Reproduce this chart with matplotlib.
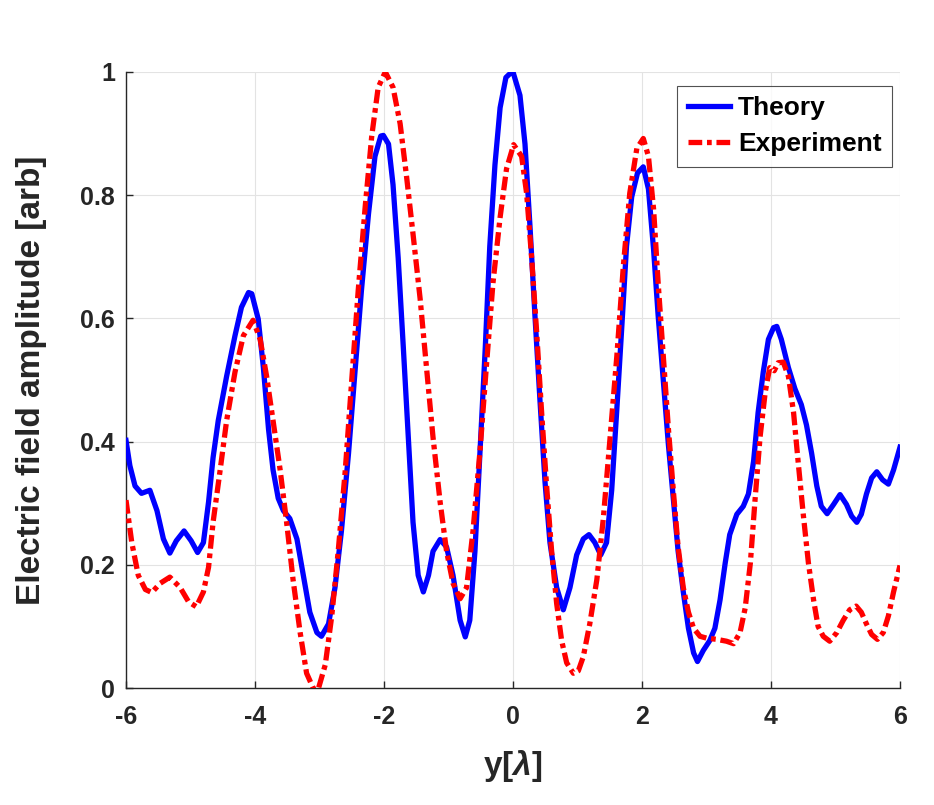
import matplotlib
matplotlib.use("Agg")
import matplotlib.pyplot as plt

# Theory (blue, solid)
theory_x = [-6.0, -5.94, -5.86, -5.76, -5.63, -5.52, -5.42, -5.32, -5.22, -5.10, -4.99, -4.89,
            -4.80, -4.72, -4.65, -4.57, -4.44, -4.31, -4.21, -4.10, -4.05, -3.95, -3.87,
            -3.79, -3.72, -3.64, -3.56, -3.46, -3.35, -3.25, -3.15, -3.04, -2.97, -2.86,
            -2.76, -2.66, -2.55, -2.45, -2.35, -2.24, -2.14, -2.05, -2.01, -1.93, -1.86,
            -1.78, -1.70, -1.62, -1.55, -1.47, -1.39, -1.31, -1.24, -1.13, -1.03, -0.93,
            -0.82, -0.74, -0.67, -0.59, -0.51, -0.43, -0.36, -0.28, -0.20, -0.11, -0.03,
            0.0, 0.108, 0.186, 0.263, 0.34, 0.418, 0.496, 0.573, 0.677, 0.78, 0.883, 0.987,
            1.09, 1.178, 1.27, 1.36, 1.45, 1.53, 1.61, 1.69, 1.76, 1.84, 1.93, 2.02, 2.10,
            2.18, 2.25, 2.33, 2.41, 2.49, 2.56, 2.64, 2.72, 2.80, 2.86, 2.95, 3.05, 3.13,
            3.21, 3.29, 3.36, 3.47, 3.57, 3.65, 3.73, 3.80, 3.88, 3.96, 4.04, 4.09, 4.16,
            4.27, 4.37, 4.47, 4.55, 4.63, 4.71, 4.78, 4.87, 4.97, 5.07, 5.17, 5.25, 5.33,
            5.40, 5.48, 5.56, 5.64, 5.73, 5.82, 5.90, 6.0]
theory_y = [0.402, 0.361, 0.328, 0.316, 0.321, 0.288, 0.242, 0.219, 0.239, 0.255, 0.239, 0.220,
            0.236, 0.302, 0.374, 0.434, 0.506, 0.572, 0.618, 0.642, 0.640, 0.599, 0.520,
            0.420, 0.354, 0.308, 0.288, 0.275, 0.242, 0.183, 0.123, 0.090, 0.084, 0.104,
            0.163, 0.255, 0.381, 0.513, 0.645, 0.770, 0.863, 0.896, 0.897, 0.883, 0.817,
            0.698, 0.552, 0.400, 0.269, 0.183, 0.156, 0.183, 0.222, 0.241, 0.229, 0.183,
            0.110, 0.083, 0.110, 0.222, 0.387, 0.552, 0.717, 0.849, 0.942, 0.991, 0.999,
            1.0, 0.962, 0.883, 0.750, 0.605, 0.467, 0.335, 0.236, 0.163, 0.127, 0.163, 0.216,
            0.242, 0.249, 0.236, 0.216, 0.236, 0.321, 0.453, 0.592, 0.717, 0.797, 0.836,
            0.846, 0.810, 0.711, 0.605, 0.500, 0.394, 0.302, 0.222, 0.156, 0.097, 0.057,
            0.043, 0.061, 0.077, 0.097, 0.143, 0.203, 0.249, 0.282, 0.295, 0.315, 0.368,
            0.447, 0.513, 0.566, 0.585, 0.587, 0.566, 0.520, 0.486, 0.460, 0.427, 0.381,
            0.328, 0.295, 0.283, 0.298, 0.314, 0.298, 0.279, 0.269, 0.282, 0.315, 0.341,
            0.351, 0.338, 0.331, 0.354, 0.391]

# Experiment (red, dash-dot)
exp_x = [-6.0, -5.91, -5.81, -5.70, -5.60, -5.47, -5.32, -5.16, -5.03, -4.91, -4.80, -4.72,
         -4.65, -4.54, -4.44, -4.31, -4.18, -4.03, -3.92, -3.82, -3.72, -3.61, -3.51,
         -3.41, -3.30, -3.20, -3.09, -3.02, -2.91, -2.81, -2.71, -2.60, -2.50, -2.40,
         -2.29, -2.19, -2.09, -1.98, -1.86, -1.75, -1.65, -1.55, -1.44, -1.34, -1.24,
         -1.13, -1.03, -0.93, -0.82, -0.72, -0.62, -0.51, -0.41, -0.31, -0.20, -0.10,
         0.01, 0.134, 0.211, 0.289, 0.366, 0.444, 0.521, 0.599, 0.677, 0.754, 0.832,
         0.935, 1.013, 1.09, 1.19, 1.30, 1.40, 1.50, 1.61, 1.71, 1.81, 1.92, 2.02, 2.10,
         2.18, 2.25, 2.33, 2.41, 2.49, 2.56, 2.64, 2.72, 2.80, 2.90, 3.00, 3.16, 3.31,
         3.42, 3.52, 3.60, 3.68, 3.75, 3.83, 3.91, 3.98, 4.05, 4.11, 4.19, 4.27, 4.35,
         4.42, 4.50, 4.58, 4.66, 4.73, 4.81, 4.91, 5.02, 5.12, 5.22, 5.32, 5.40, 5.48,
         5.56, 5.65, 5.74, 5.82, 5.90, 6.0]
exp_y = [0.305, 0.236, 0.183, 0.160, 0.155, 0.170, 0.180, 0.163, 0.140, 0.132, 0.156, 0.196,
         0.269, 0.354, 0.434, 0.513, 0.572, 0.597, 0.566, 0.506, 0.434, 0.354, 0.269,
         0.176, 0.090, 0.024, -0.002, -0.002, 0.038, 0.117, 0.222, 0.354, 0.500, 0.645,
         0.783, 0.896, 0.975, 1.0, 0.975, 0.916, 0.830, 0.737, 0.632, 0.519, 0.407,
         0.302, 0.222, 0.170, 0.145, 0.163, 0.255, 0.387, 0.526, 0.658, 0.764, 0.843,
         0.882, 0.863, 0.803, 0.698, 0.579, 0.447, 0.328, 0.222, 0.137, 0.077, 0.041,
         0.024, 0.028, 0.051, 0.104, 0.176, 0.275, 0.400, 0.539, 0.684, 0.803, 0.876,
         0.892, 0.863, 0.777, 0.658, 0.539, 0.420, 0.315, 0.229, 0.163, 0.123, 0.097,
         0.084, 0.081, 0.079, 0.076, 0.072, 0.090, 0.130, 0.203, 0.302, 0.407, 0.480,
         0.520, 0.515, 0.528, 0.529, 0.506, 0.447, 0.368, 0.282, 0.203, 0.143, 0.100,
         0.084, 0.076, 0.090, 0.110, 0.127, 0.133, 0.123, 0.104, 0.087, 0.079, 0.090,
         0.117, 0.156, 0.199]

xticks = [-6, -4, -2, 0, 2, 4, 6]
xtick_labels = ["-6", "-4", "-2", "0", "2", "4", "6"]
yticks = [0, 0.2, 0.4, 0.6, 0.8, 1]
ytick_labels = ["0", "0.2", "0.4", "0.6", "0.8", "1"]

plt.rcParams['font.family'] = ['Liberation Sans', 'DejaVu Sans']
plt.rcParams['font.weight'] = 'bold'
plt.rcParams['mathtext.fontset'] = 'custom'
plt.rcParams['mathtext.it'] = 'Liberation Sans:italic'
plt.rcParams['mathtext.rm'] = 'Liberation Sans:bold'

fig = plt.figure(figsize=(9.34, 8.05), dpi=100)
ax = fig.add_axes([0.1349, 0.1453, 0.8287, 0.7653])

ax.plot(theory_x, theory_y, '-', color='#0000ff', lw=3.8, label='Theory',
        solid_joinstyle='round', zorder=3)
ax.plot(exp_x, exp_y, color='#ff0000', lw=3.8, dashes=(2.6, 0.9, 0.9, 0.9),
        dash_joinstyle='round', label='Experiment', zorder=4)

ax.set_xlim(-6, 6)
ax.set_ylim(0, 1)
ax.set_xticks(xticks)
ax.set_xticklabels(xtick_labels)
ax.set_yticks(yticks)
ax.set_yticklabels(ytick_labels)
ax.grid(True, color='#e3e3e3', lw=0.8)
ax.set_axisbelow(True)
for side in ('top', 'right'):
    ax.spines[side].set_visible(False)
for side in ('left', 'bottom'):
    ax.spines[side].set_color('#262626')
    ax.spines[side].set_linewidth(1.0)
ax.tick_params(axis='both', direction='in', length=5, width=1.0, color='#262626',
               labelsize=18, labelcolor='#262626')
ax.tick_params(axis='x', pad=12)
ax.tick_params(axis='y', pad=8)
for lbl in ax.get_xticklabels() + ax.get_yticklabels():
    lbl.set_fontweight('bold')

ax.set_xlabel(r'y[$\lambda$]', fontsize=24, fontweight='bold', color='#262626', labelpad=14)
ax.set_ylabel('Electric field amplitude [arb]', fontsize=24, fontweight='bold',
              color='#262626', labelpad=24)

leg = ax.legend(loc='upper right', fontsize=19, frameon=True, fancybox=False,
                edgecolor='#262626', handlelength=1.6, handletextpad=0.3,
                borderpad=0.4, labelspacing=0.45, borderaxespad=0.0,
                bbox_to_anchor=(0.99, 0.978))
leg.get_frame().set_linewidth(0.8)
for t in leg.get_texts():
    t.set_fontweight('bold')

fig.savefig('out.png', dpi=100)
